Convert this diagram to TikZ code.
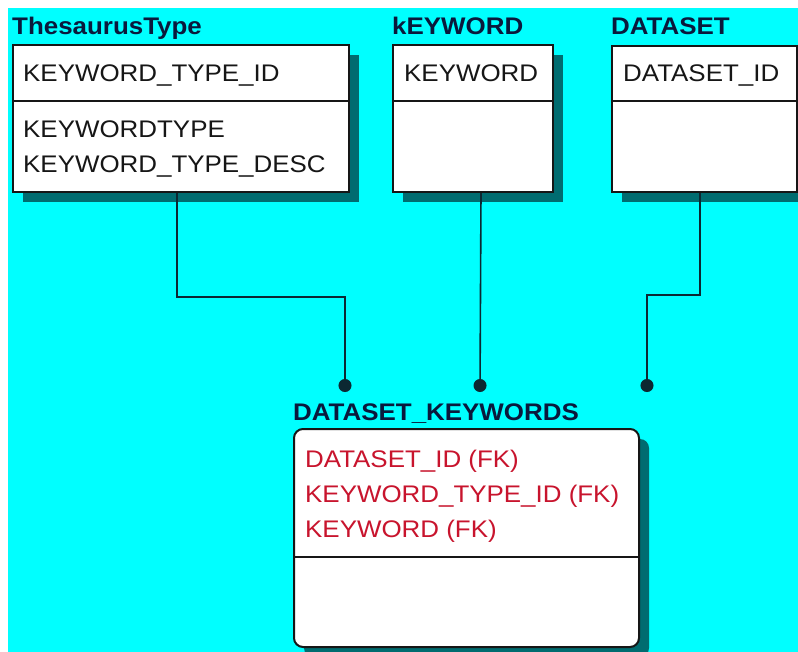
\documentclass[tikz,border=0pt]{standalone}
\usepackage{fontspec}
\setmainfont{Liberation Sans}[FakeStretch=1.08]
\usetikzlibrary{arrows.meta}
\definecolor{sky}{RGB}{0,255,255}
\definecolor{shade}{RGB}{0,108,112}
\definecolor{ink}{RGB}{22,22,22}
\definecolor{navy}{RGB}{10,25,60}
\definecolor{fkred}{RGB}{200,20,45}
\definecolor{wire}{RGB}{12,40,50}

\begin{document}
\begin{tikzpicture}[x=1pt,y=-1pt,
  entity/.style={draw=ink, line width=2pt, fill=white, inner sep=0pt,
    anchor=north west,
    preaction={fill=shade, transform canvas={shift={(10pt,-10pt)}}}},
  title/.style={anchor=base west, inner sep=0pt, text=navy,
    font=\fontsize{24}{24}\selectfont\bfseries},
  field/.style={anchor=base west, inner sep=0pt, text=ink,
    font=\fontsize{24}{24}\selectfont},
  fk/.style={field, text=fkred},
  divider/.style={draw=ink, line width=2pt},
  rel/.style={draw=wire, line width=1.6pt, -{Circle[length=13pt,width=13pt]}},
]
\clip (0,0) rectangle (798,652);
\fill[white] (0,0) rectangle (798,652);
\fill[sky] (8,8) rectangle (798,652);

% entity boxes
\node[entity, minimum width=336, minimum height=147] (thes) at (12,44) {};
\node[entity, minimum width=160, minimum height=147] (kw) at (392,44) {};
\node[entity, minimum width=185, minimum height=146] (ds) at (611,45) {};
\node[entity, rounded corners=9pt, minimum width=345, minimum height=218] (dk) at (293,428) {};

% key / attribute separators
\draw[divider] (thes.west |- 0,101) -- (thes.east |- 0,101);
\draw[divider] (kw.west |- 0,101) -- (kw.east |- 0,101);
\draw[divider] (ds.west |- 0,101) -- (ds.east |- 0,101);
\draw[divider] (dk.west |- 0,557) -- (dk.east |- 0,557);

% entity names
\node[title] (thes-t) at (12,35) {ThesaurusType};
\node[title] (kw-t) at (392,35) {kEYWORD};
\node[title] (ds-t) at (611,35) {DATASET};
\node[title] (dk-t) at (293,420) {DATASET\_KEYWORDS};

% attributes
\node[field] (thes-k) at (23,82) {KEYWORD\_TYPE\_ID};
\node[field] (thes-a1) at (23,138) {KEYWORDTYPE};
\node[field] (thes-a2) at (23,173) {KEYWORD\_TYPE\_DESC};
\node[field] (kw-k) at (404,82) {KEYWORD};
\node[field] (ds-k) at (623,82) {DATASET\_ID};
\node[fk] (dk-k1) at (305,467) {DATASET\_ID (FK)};
\node[fk] (dk-k2) at (305,502) {KEYWORD\_TYPE\_ID (FK)};
\node[fk] (dk-k3) at (305,537) {KEYWORD (FK)};

% relationship ends
\coordinate (d1) at (345,392);
\coordinate (d2) at (480,392);
\coordinate (d3) at (647,392);

\draw[rel] ([xshift=-4pt]thes.south) -- ++(0,104) -| (d1);
\draw[rel] ([xshift=8pt]kw.south) -- (d2);
\draw[rel] ([xshift=-4.5pt]ds.south) -- ++(0,102) -| (d3);
\end{tikzpicture}
\end{document}
